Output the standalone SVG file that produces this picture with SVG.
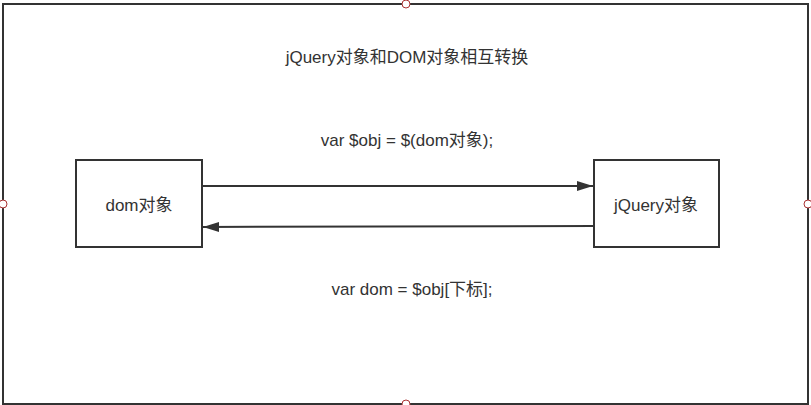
<svg xmlns="http://www.w3.org/2000/svg" width="811" height="405" viewBox="0 0 811 405">
<defs>
<marker id="arr" viewBox="0 0 16 12" refX="16" refY="6" markerWidth="16" markerHeight="12" markerUnits="userSpaceOnUse" orient="auto">
<path d="M0,1 L16,6 L0,11 Z" fill="#333"/>
</marker>
</defs>
<style>
.t{font-family:"Liberation Sans","Noto Sans CJK SC",sans-serif;font-size:17px;fill:#333;text-anchor:middle;dominant-baseline:central}
.box{fill:#fff;stroke:#333;stroke-width:2}
.edge{stroke:#333;stroke-width:2;fill:none}
.h{fill:#fff;stroke:#a33;stroke-width:1}
</style>
<rect width="811" height="405" fill="#fff"/>
<g id="frame">
<rect x="3" y="4" width="805" height="400" fill="none" stroke="#333" stroke-width="2"/>
</g>
<g id="title"><text class="t" x="407" y="57">jQuery对象和DOM对象相互转换</text></g>
<g id="dom"><rect class="box" x="76" y="160" width="126" height="87"/><text class="t" x="139" y="205">dom对象</text></g>
<g id="jquery"><rect class="box" x="594" y="160" width="125" height="87"/><text class="t" x="656" y="205">jQuery对象</text></g>
<g id="connectors">
<line class="edge" x1="202" y1="186" x2="593" y2="186" marker-end="url(#arr)"/>
<line class="edge" x1="594" y1="226" x2="203" y2="227" marker-end="url(#arr)"/>
</g>
<g id="labels">
<text class="t" x="407" y="140">var $obj = $(dom对象);</text>
<text class="t" x="412" y="289">var dom = $obj[下标];</text>
</g>
<g id="handles">
<circle class="h" cx="406" cy="4" r="4"/>
<circle class="h" cx="3" cy="204" r="4"/>
<circle class="h" cx="808" cy="204" r="4"/>
<circle class="h" cx="406" cy="404" r="4"/>
</g>
</svg>
